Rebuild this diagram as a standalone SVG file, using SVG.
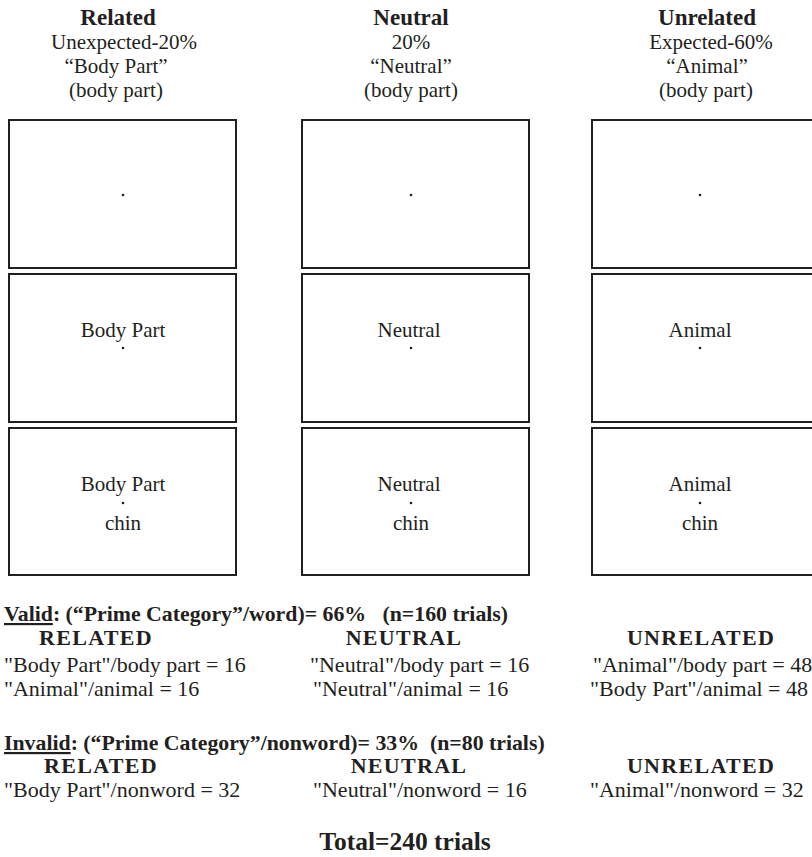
<svg xmlns="http://www.w3.org/2000/svg" width="812" height="857" viewBox="0 0 812 857">
<style>
text{font-family:"Liberation Serif","Times New Roman",serif;fill:#231f20}
.h{font-size:23px;font-weight:bold;text-anchor:middle}
.s{font-size:21px;text-anchor:middle}
.b{font-size:21px;text-anchor:middle}
.box{fill:#fff;stroke:#231f20;stroke-width:2}
.dot{fill:#231f20}
.l{font-size:22px}
.lb{font-size:21.8px;font-weight:bold;white-space:pre}
.hd{font-size:22px;font-weight:bold;text-anchor:middle;letter-spacing:1.3px}
</style>
<rect width="812" height="857" fill="#fff"/>
<g id="col-related">
<text class="h" x="118" y="25">Related</text>
<text class="s" x="124" y="49">Unexpected-20%</text>
<text class="s" x="116" y="73">“Body Part”</text>
<text class="s" x="116" y="97">(body part)</text>
<rect class="box" x="9" y="120" width="227" height="148"/>
<circle class="dot" cx="123" cy="195" r="1.3"/>
<rect class="box" x="9" y="274" width="227" height="148"/>
<text class="b" x="123" y="337">Body Part</text>
<circle class="dot" cx="123" cy="348" r="1.3"/>
<rect class="box" x="9" y="428" width="227" height="147"/>
<text class="b" x="123" y="491">Body Part</text>
<circle class="dot" cx="123" cy="503" r="1.3"/>
<text class="b" x="123" y="530">chin</text>
</g>
<g id="col-neutral">
<text class="h" x="411" y="25">Neutral</text>
<text class="s" x="411" y="49">20%</text>
<text class="s" x="411" y="73">“Neutral”</text>
<text class="s" x="411" y="97">(body part)</text>
<rect class="box" x="302" y="120" width="227" height="148"/>
<circle class="dot" cx="411" cy="195" r="1.3"/>
<rect class="box" x="302" y="274" width="227" height="148"/>
<text class="b" x="409" y="337">Neutral</text>
<circle class="dot" cx="411" cy="348" r="1.3"/>
<rect class="box" x="302" y="428" width="227" height="147"/>
<text class="b" x="409" y="491">Neutral</text>
<circle class="dot" cx="411" cy="503" r="1.3"/>
<text class="b" x="411" y="530">chin</text>
</g>
<g id="col-unrelated">
<text class="h" x="707" y="25">Unrelated</text>
<text class="s" x="711" y="49">Expected-60%</text>
<text class="s" x="707" y="73">“Animal”</text>
<text class="s" x="706" y="97">(body part)</text>
<rect class="box" x="592" y="120" width="227" height="148"/>
<circle class="dot" cx="700" cy="195" r="1.3"/>
<rect class="box" x="592" y="274" width="227" height="148"/>
<text class="b" x="700" y="337">Animal</text>
<circle class="dot" cx="700" cy="348" r="1.3"/>
<rect class="box" x="592" y="428" width="227" height="147"/>
<text class="b" x="700" y="491">Animal</text>
<circle class="dot" cx="700" cy="503" r="1.3"/>
<text class="b" x="700" y="530">chin</text>
</g>
<g id="valid">
<text class="lb" x="4" y="621"><tspan text-decoration="underline">Valid</tspan>: (“Prime Category”/word)= 66%   (n=160 trials)</text>
<text class="hd" x="96" y="645">RELATED</text>
<text class="hd" x="404" y="645">NEUTRAL</text>
<text class="hd" x="701" y="645">UNRELATED</text>
<text class="l" x="4" y="672">"Body Part"/body part = 16</text>
<text class="l" x="4" y="696">"Animal"/animal = 16</text>
<text class="l" x="310" y="672">"Neutral"/body part = 16</text>
<text class="l" x="313" y="696">"Neutral"/animal = 16</text>
<text class="l" x="593" y="672">"Animal"/body part = 48</text>
<text class="l" x="590" y="696">"Body Part"/animal = 48</text>
</g>
<g id="invalid">
<text class="lb" x="4" y="750"><tspan text-decoration="underline">Invalid</tspan>: (“Prime Category”/nonword)= 33%  (n=80 trials)</text>
<text class="hd" x="101" y="773">RELATED</text>
<text class="hd" x="409" y="773">NEUTRAL</text>
<text class="hd" x="701" y="773">UNRELATED</text>
<text class="l" x="4" y="797">"Body Part"/nonword = 32</text>
<text class="l" x="313" y="797">"Neutral"/nonword = 16</text>
<text class="l" x="590" y="797">"Animal"/nonword = 32</text>
</g>
<text id="total" x="405" y="850" style="font-size:25.5px;font-weight:bold;text-anchor:middle">Total=240 trials</text>
</svg>
